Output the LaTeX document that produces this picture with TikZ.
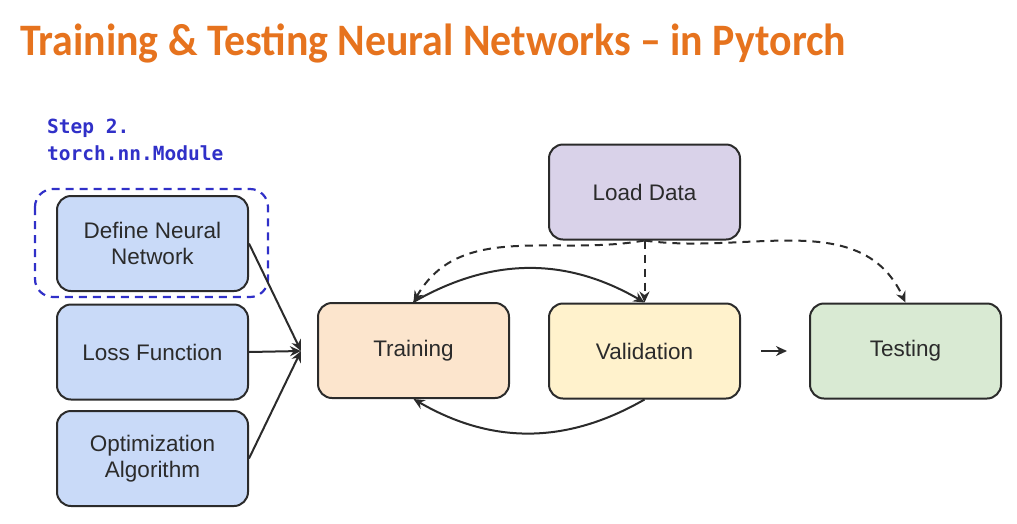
\documentclass[tikz,border=0pt]{standalone}
\usepackage{fontspec}
\setmainfont{Liberation Sans}
\newfontfamily\titlefont{Carlito}
\newfontfamily\codefont{DejaVu Sans Mono}
\usetikzlibrary{arrows.meta}
\definecolor{titleorange}{HTML}{E6731E}
\definecolor{stepblue}{HTML}{3030C8}
\definecolor{boxline}{HTML}{2B2B2B}
\definecolor{nnblue}{HTML}{C9DAF8}
\definecolor{trainpeach}{HTML}{FCE5CD}
\definecolor{valyellow}{HTML}{FFF2CC}
\definecolor{testgreen}{HTML}{D9EAD3}
\definecolor{loadpurple}{HTML}{D9D2E9}
\begin{document}
\begin{tikzpicture}
[x=1pt, y=-1pt, font=\fontsize{22.5}{26}\selectfont, >={Stealth[length=11pt,width=10pt]}]
\tikzstyle{stage}=[draw=boxline, line width=2pt, rounded corners=14pt, minimum width=191pt, minimum height=95pt, align=center, text=boxline]
\tikzstyle{flow}=[->, line width=2pt, boxline]
\tikzstyle{feed}=[->, line width=2pt, boxline, dash pattern=on 8pt off 6pt]
\useasboundingbox (0,0) rectangle (1017,523);

\node[anchor=base west, text=titleorange, font=\titlefont\bfseries\fontsize{45}{50}\selectfont, inner sep=0pt] (title) at (20,55) {\scalebox{0.93}[1]{Training \& Testing Neural Networks – in Pytorch}};
\node[anchor=north west, text=stepblue, align=left, font=\codefont\bfseries\fontsize{19.5}{27}\selectfont, inner sep=0pt] (step) at (47,119) {Step 2.\\torch.nn.Module};

\node[stage, fill=nnblue]      (N1) at (152.5,243.5) {Define Neural\\Network};
\node[stage, fill=nnblue]      (N2) at (152.5,352)   {Loss Function};
\node[stage, fill=nnblue]      (N3) at (152.5,458.5) {Optimization\\Algorithm};
\node[stage, fill=trainpeach]  (Tr) at (413.5,350.5) {Training};
\node[stage, fill=valyellow]   (Va) at (644.5,351)   {Validation};
\node[stage, fill=testgreen]   (Te) at (905.5,351)   {Testing};
\node[stage, fill=loadpurple]  (LD) at (644.5,192)   {Load Data};

% module frame
\draw[stepblue, line width=2.2pt, dash pattern=on 8pt off 6pt, rounded corners=18pt] (35,189) rectangle (268,297);

\coordinate (J) at (301,351);
\draw[flow] (N1.east) -- (J);
\draw[flow] (N2.east) -- (J);
\draw[flow] (N3.east) -- (J);

\draw[flow] (Tr.north) to[bend left=30] (Va.north);
\draw[flow] (Va.south) to[bend left=30] (Tr.south);
\draw[flow, shorten <=20pt, shorten >=22pt] (Va.east) -- (Te.west);

\draw[feed] (LD.south) -- (Va.north);
\draw[feed] (LD.south) to[out=190, in=60] (Tr.north);
\draw[feed] (LD.south) to[out=-8, in=115] (Te.north);
\end{tikzpicture}
\end{document}
